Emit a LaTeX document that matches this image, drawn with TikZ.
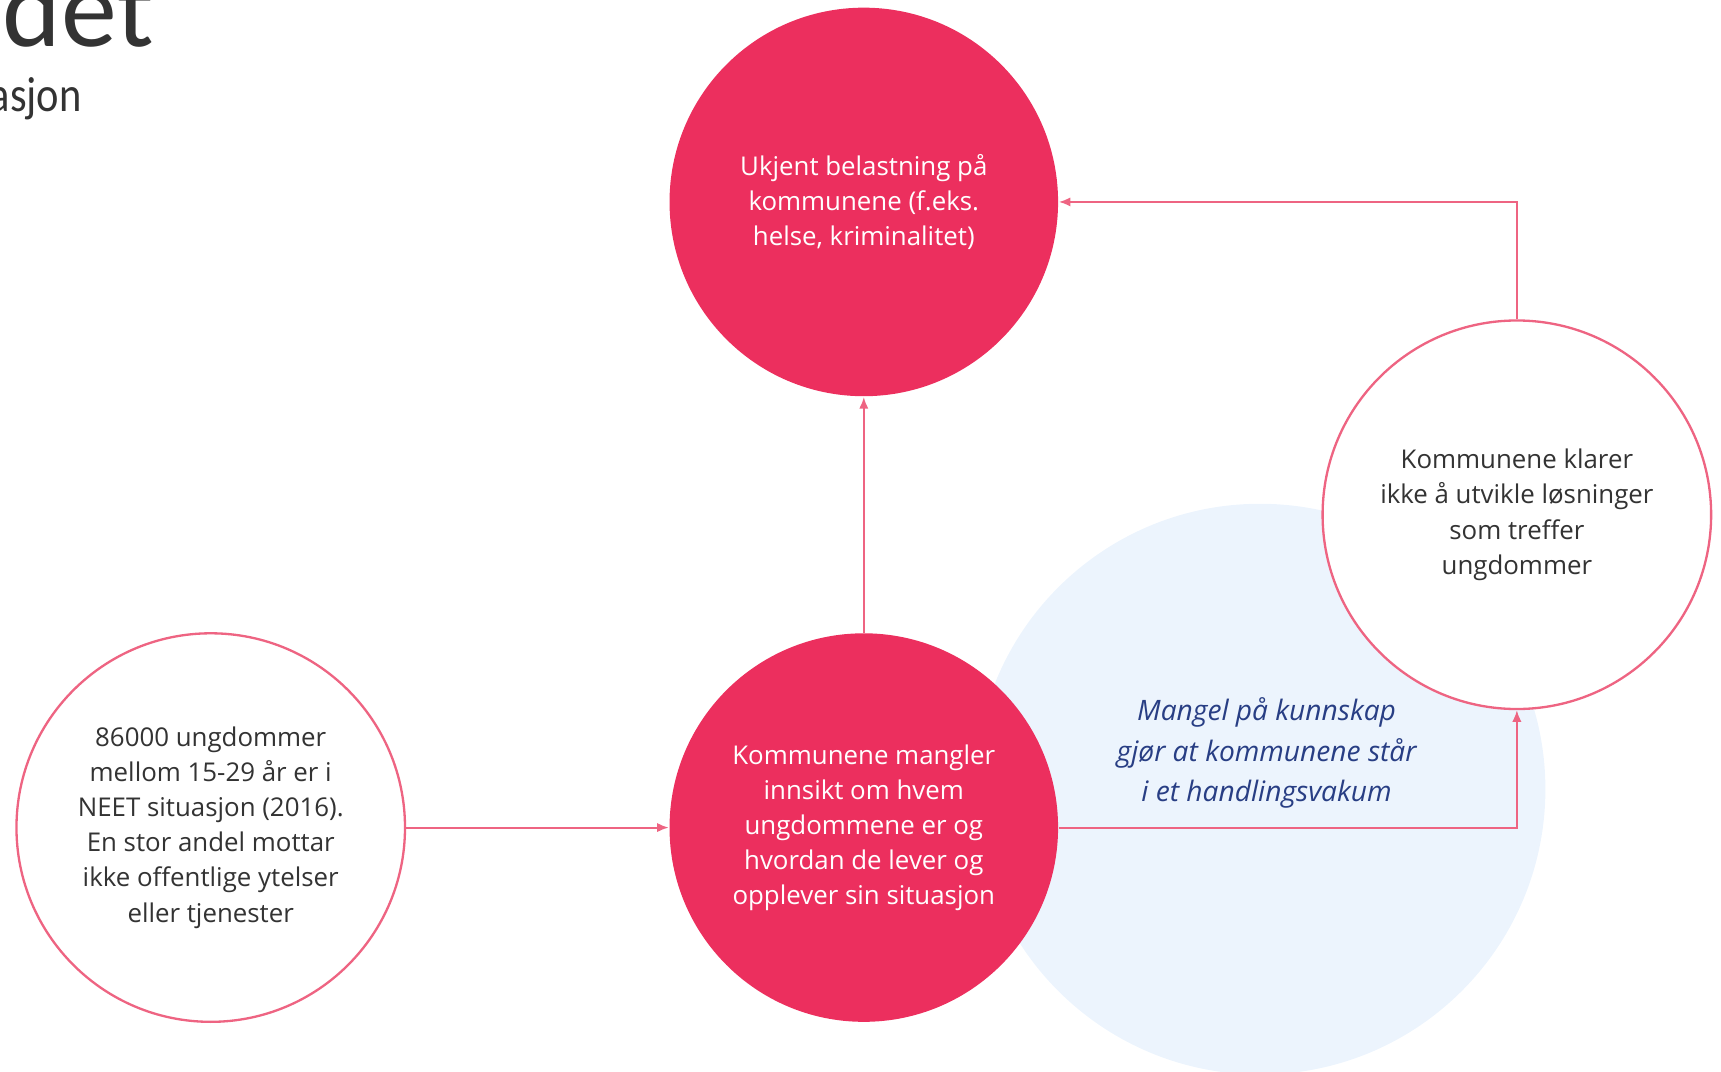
\documentclass[tikz,border=0pt]{standalone}
\usepackage{fontspec}
\setmainfont{Open Sans}
\newfontfamily\tittelfont{Carlito}
\newfontfamily\undertittelfont[FakeStretch=0.86]{Carlito}
\usetikzlibrary{arrows.meta}
\definecolor{rosa}{RGB}{236,47,94}
\definecolor{linje}{RGB}{238,100,130}
\definecolor{lysbla}{RGB}{236,244,253}
\definecolor{morkbla}{RGB}{40,62,132}
\definecolor{tekst}{RGB}{51,51,51}

\begin{document}
\begin{tikzpicture}[>={Latex[length=3pt,width=2.4pt]},
  rund/.style={circle,minimum size=3.54cm,inner sep=0pt,align=center,font=\fontsize{6.7}{9.1}\selectfont},
  rod/.style={rund,fill=rosa,text=white},
  hvit/.style={rund,draw=linje,line width=0.6pt,fill=white,text=tekst},
  pil/.style={->,draw=linje,line width=0.5pt}]
\useasboundingbox (0,0) rectangle (15.68,9.76);

\node (D1)[anchor=base east,inner sep=0pt,text=black!80,font=\tittelfont\fontsize{29}{29}\selectfont] at (1.41,9.34) {det};
\node (D2)[anchor=base east,inner sep=0pt,text=black!80,font=\undertittelfont\fontsize{12.8}{13}\selectfont] at (0.75,8.74) {asjon};

\node (V1)[circle,fill=lysbla,minimum size=5.2cm] at (11.48,2.57) {};
\node (M1)[align=center,text=morkbla,font=\itshape\fontsize{7.3}{10.5}\selectfont] at (11.54,2.90) {Mangel på kunnskap\\ gjør at kommunene står\\ i et handlingsvakum};

\node (T1)[rod] at (7.87,7.92) {Ukjent belastning på\\ kommunene (f.eks.\\ helse, kriminalitet)};
\node (B1)[rod] at (7.87,2.22) {Kommunene mangler\\ innsikt om hvem\\ ungdommene er og\\ hvordan de lever og\\ opplever sin situasjon};
\node (L1)[hvit] at (1.92,2.22) {86000 ungdommer\\ mellom 15-29 år er i\\ NEET situasjon (2016).\\ En stor andel mottar\\ ikke offentlige ytelser\\ eller tjenester};
\node (R1)[hvit] at (13.82,5.07) {Kommunene klarer\\ ikke å utvikle løsninger\\ som treffer\\ ungdommer};

\draw[pil] (L1)--(B1);
\draw[pil] (B1)--(T1);
\draw[pil] (B1.east) -| (R1.south);
\draw[pil] (R1.north) |- (T1.east);

\end{tikzpicture}
\end{document}
